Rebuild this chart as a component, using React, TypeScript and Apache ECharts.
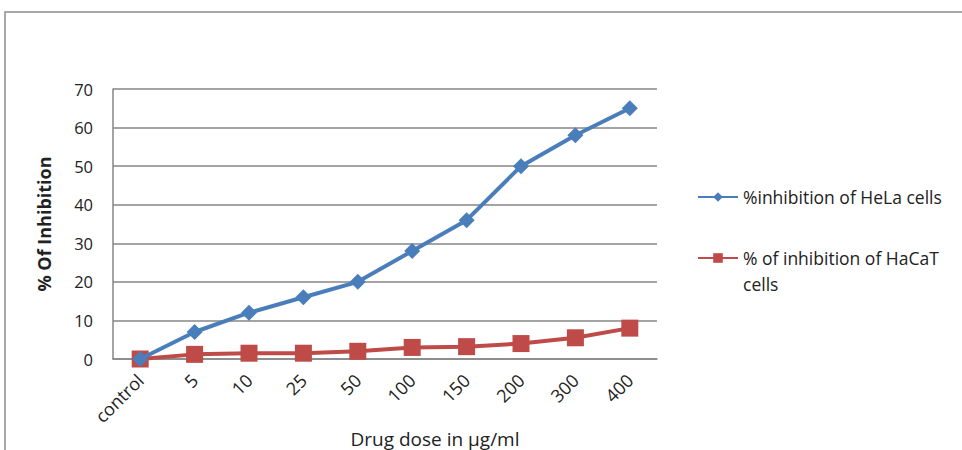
import React, { useEffect, useRef } from "react";
import * as echarts from "echarts";

const categories = ["control", "5", "10", "25", "50", "100", "150", "200", "300", "400"];
const helaValues = [0, 7, 12, 16, 20, 28, 36, 50, 58, 65];
const hacatValues = [0, 1.2, 1.5, 1.5, 2, 3, 3.2, 4, 5.5, 8];
const helaName = "%inhibition of HeLa cells";
const hacatName = "% of inhibition of HaCaT cells";
const yAxisName = "% Of Inhibition";
const xAxisName = "Drug dose in \u00b5g/ml";

const FONT = "'Open Sans', sans-serif";

export default function App() {
  const ref = useRef<HTMLDivElement>(null);
  useEffect(() => {
    const chart = echarts.init(ref.current!, undefined, { renderer: "svg" });
    chart.setOption({
      animation: false,
      backgroundColor: "#ffffff",
      textStyle: { fontFamily: FONT },
      graphic: [
        {
          type: "rect",
          shape: { x: 5, y: 12, width: 1000, height: 500 },
          style: { fill: "none", stroke: "#8c8c8c", lineWidth: 1.5 },
          silent: true,
        },
      ],
      grid: { left: 113, right: 305, top: 89, bottom: 91, outerBoundsMode: "none", containLabel: false },
      legend: [
        {
          data: [helaName],
          left: 692,
          top: 183,
          itemWidth: 40,
          itemHeight: 12,
          itemGap: 4,
          textStyle: { fontFamily: FONT, fontSize: 17.5, color: "#222" },
        },
        {
          data: [hacatName],
          left: 692,
          top: 214,
          itemWidth: 40,
          itemHeight: 12,
          formatter: () => "\n% of inhibition of HaCaT\ncells",
          textStyle: { fontFamily: FONT, fontSize: 17.5, color: "#222", lineHeight: 26 },
        },
      ],
      xAxis: {
        type: "category",
        data: categories,
        boundaryGap: true,
        name: xAxisName,
        nameLocation: "middle",
        nameGap: 70,
        nameMoveOverlap: false,
        nameTextStyle: { fontFamily: FONT, fontSize: 19, color: "#222", padding: [0, 0, 0, 100] },
        axisLine: { lineStyle: { color: "#868686", width: 1.5 } },
        axisTick: { show: false },
        axisLabel: { rotate: 45, margin: 18, fontFamily: FONT, fontSize: 18, color: "#222" },
      },
      yAxis: {
        type: "value",
        min: 0,
        max: 70,
        interval: 10,
        name: yAxisName,
        nameLocation: "middle",
        nameGap: 60,
        nameMoveOverlap: false,
        nameTextStyle: { fontFamily: FONT, fontSize: 18, fontWeight: "bold", color: "#222" },
        axisLine: { show: true, lineStyle: { color: "#868686", width: 1.5 } },
        axisTick: { show: false },
        axisLabel: { margin: 20, fontFamily: FONT, fontSize: 16.5, color: "#222" },
        splitLine: { lineStyle: { color: "#868686", width: 1.5 } },
      },
      series: [
        {
          name: helaName,
          type: "line",
          data: helaValues,
          symbol: "diamond",
          symbolSize: 16,
          lineStyle: { color: "#4a7ebb", width: 4 },
          itemStyle: { color: "#4a7ebb" },
          z: 3,
        },
        {
          name: hacatName,
          type: "line",
          data: hacatValues,
          symbol: "rect",
          symbolSize: 17,
          lineStyle: { color: "#be4b48", width: 4 },
          itemStyle: { color: "#be4b48" },
          z: 2,
        },
      ],
    });
    return () => chart.dispose();
  }, []);
  return (
    <div
      ref={ref}
      style={{ position: "absolute", left: 0, top: 0, width: 962, height: 450 }}
    />
  );
}
